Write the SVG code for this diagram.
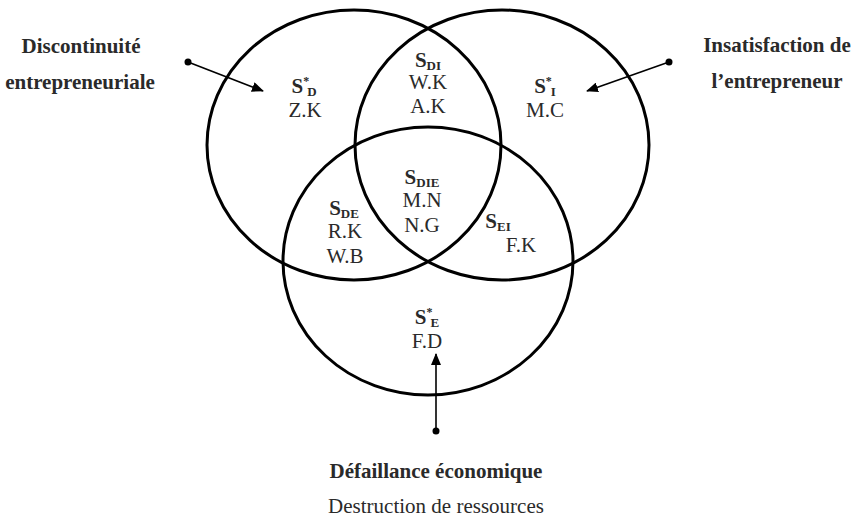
<svg xmlns="http://www.w3.org/2000/svg" width="858" height="518" viewBox="0 0 858 518">
<style>
.c{fill:none;stroke:#000;stroke-width:3}
.t{font-family:"Liberation Serif","Times New Roman",serif;font-size:21px;fill:#2a2a2a;text-anchor:middle}
.b{font-weight:bold}
.a{stroke:#000;stroke-width:1.6;fill:none}
.d{fill:#000}
</style>
<defs>
<marker id="ah" viewBox="0 0 12 10" refX="11" refY="5" markerWidth="12" markerHeight="10" markerUnits="userSpaceOnUse" orient="auto">
<path d="M0,0 L12,5 L0,10 Z" fill="#000"/>
</marker>
</defs>
<g id="circles">
<ellipse id="circle-D" class="c" cx="354" cy="145" rx="147" ry="135"/>
<ellipse id="circle-I" class="c" cx="502" cy="145" rx="147" ry="135"/>
<ellipse id="circle-E" class="c" cx="428" cy="261" rx="145" ry="134"/>
</g>
<g id="connectors">
<line class="a" x1="188" y1="62" x2="263" y2="91" marker-end="url(#ah)"/>
<circle class="d" cx="188" cy="62" r="3.5"/>
<line class="a" x1="669" y1="62" x2="587" y2="91" marker-end="url(#ah)"/>
<circle class="d" cx="669" cy="62" r="3.5"/>
<line class="a" x1="436" y1="431" x2="436" y2="354" marker-end="url(#ah)"/>
<circle class="d" cx="436" cy="431" r="3.5"/>
</g>
<g id="label-discontinuite">
<text class="t b" x="81" y="53">Discontinuité</text>
<text class="t b" x="80" y="89">entrepreneuriale</text>
</g>
<g id="label-insatisfaction">
<text class="t b" x="777" y="52">Insatisfaction de</text>
<text class="t b" x="777" y="88">l’entrepreneur</text>
</g>
<g id="label-defaillance">
<text class="t b" x="436" y="478">Défaillance économique</text>
<text class="t" x="436" y="513">Destruction de ressources</text>
</g>
<g id="region-SD">
<text class="t b" x="304" y="93">S<tspan font-size="12" dy="-8">*</tspan><tspan font-size="13" dx="-2" dy="11">D</tspan></text>
<text class="t" x="305" y="117">Z.K</text>
</g>
<g id="region-SDI">
<text class="t b" x="428" y="67">S<tspan font-size="13" dy="3">DI</tspan></text>
<text class="t" x="428" y="89">W.K</text>
<text class="t" x="428" y="113">A.K</text>
</g>
<g id="region-SI">
<text class="t b" x="545" y="93">S<tspan font-size="12" dy="-8">*</tspan><tspan font-size="13" dx="-1" dy="11">I</tspan></text>
<text class="t" x="545" y="117">M.C</text>
</g>
<g id="region-SDIE">
<text class="t b" x="422" y="184">S<tspan font-size="13" dy="3">DIE</tspan></text>
<text class="t" x="422" y="207">M.N</text>
<text class="t" x="422" y="232">N.G</text>
</g>
<g id="region-SDE">
<text class="t b" x="344" y="215">S<tspan font-size="13" dy="3">DE</tspan></text>
<text class="t" x="345" y="238">R.K</text>
<text class="t" x="345" y="263">W.B</text>
</g>
<g id="region-SEI">
<text class="t b" x="498" y="228">S<tspan font-size="13" dy="3">EI</tspan></text>
<text class="t" x="521" y="252">F.K</text>
</g>
<g id="region-SE">
<text class="t b" x="427" y="324">S<tspan font-size="12" dy="-8">*</tspan><tspan font-size="13" dx="-2" dy="11">E</tspan></text>
<text class="t" x="427" y="348">F.D</text>
</g>
</svg>
